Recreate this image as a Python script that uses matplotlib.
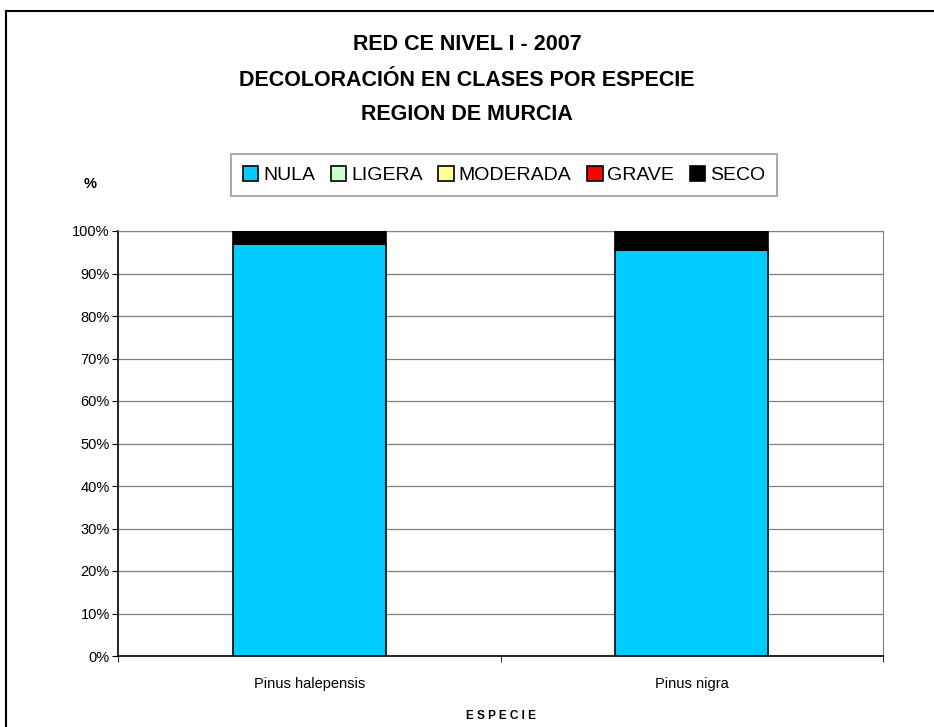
import numpy as np
import matplotlib
matplotlib.use("Agg")
import matplotlib.pyplot as plt
from matplotlib.ticker import FuncFormatter, MultipleLocator

plt.rcParams['font.family'] = ['Liberation Sans', 'DejaVu Sans']

especies = ["Pinus halepensis", "Pinus nigra"]
clases = ["NULA", "LIGERA", "MODERADA", "GRAVE", "SECO"]
nula = [96.9, 95.5]
ligera = [0.0, 0.0]
moderada = [0.0, 0.0]
grave = [0.0, 0.0]
seco = [3.1, 4.5]
colores = ["#00CCFF", "#CCFFCC", "#FFFF99", "#FF0000", "#000000"]

fig = plt.figure(figsize=(9.34, 7.27), dpi=100)
ax = fig.add_axes([118/934, 1-656/727, (883-118)/934, (656-231)/727])

x = np.arange(len(especies))
bottom = np.zeros(len(especies))
for nombre, vals, col in zip(clases, [nula, ligera, moderada, grave, seco], colores):
    ax.bar(x, vals, width=0.4, bottom=bottom, color=col, edgecolor="black",
           linewidth=1.2, label=nombre, zorder=3)
    bottom += np.array(vals)

ax.set_xlim(-0.5, 1.5)
ax.set_ylim(0, 100)
ax.yaxis.set_major_locator(MultipleLocator(10))
ax.yaxis.set_major_formatter(FuncFormatter(lambda v, p: f"{v:.0f}%"))
ax.yaxis.grid(True, color="#808080", linewidth=0.9, zorder=0)
ax.set_xticks(x)
ax.set_xticklabels(especies, fontsize=10.5)
ax.set_xticks([-0.5, 0.5, 1.5], minor=True)
ax.tick_params(axis="x", which="major", length=0, pad=15)
ax.tick_params(axis="x", which="minor", length=4, direction="out")
ax.tick_params(axis="y", length=4, direction="out", labelsize=10.5, pad=2)
for s in ["top", "right"]:
    ax.spines[s].set_color("#808080")
for s in ["left", "bottom"]:
    ax.spines[s].set_linewidth(1.2)

ax.set_xlabel("E S P E C I E", fontsize=8.5, fontweight="bold", labelpad=14)

fig.text(90/934, 1-184/727, "%", fontsize=10.5, fontweight="bold", ha="center", va="center")
fig.text(467/934, 1-45/727, "RED CE NIVEL I - 2007", fontsize=15.5, fontweight="bold", ha="center", va="center")
fig.text(467/934, 1-81/727, "DECOLORACIÓN EN CLASES POR ESPECIE", fontsize=15.5, fontweight="bold", ha="center", va="center")
fig.text(467/934, 1-114/727, "REGION DE MURCIA", fontsize=15.5, fontweight="bold", ha="center", va="center")

leg = fig.legend(loc="center", bbox_to_anchor=(504/934, 1-175/727), ncol=5, fontsize=14,
                 frameon=True, fancybox=False, edgecolor="#808080", handlelength=0.8,
                 handleheight=0.8, handletextpad=0.25, columnspacing=0.8, borderpad=0.6)
leg.get_frame().set_linewidth(1.2)

# outer frame of the chart area
fig.add_artist(plt.Line2D([6/934, 6/934], [0, 1-11/727], color="black", linewidth=1.5))
fig.add_artist(plt.Line2D([6/934, 1], [1-11/727, 1-11/727], color="black", linewidth=1.5))

fig.savefig("out.png", dpi=100)
